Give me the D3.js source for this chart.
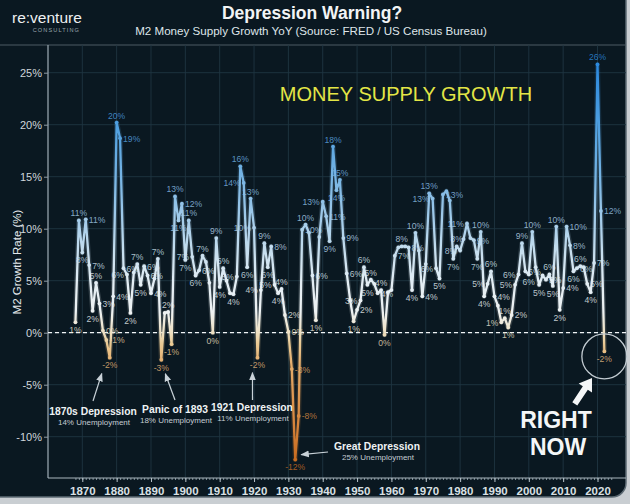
<!DOCTYPE html>
<html><head><meta charset="utf-8">
<script src="https://cdn.jsdelivr.net/npm/d3@7"></script>
<style>
html,body{margin:0;padding:0;background:#c9ced2;}
svg{display:block;font-family:"Liberation Sans",Arial,Helvetica,sans-serif;}
</style></head><body>
<svg id="c" width="630" height="504"></svg>
<script>
// ---------- data ----------
const years = d3.range(1868, 2023);
const growth = [
  1.0, 10.8, 7.7, 10.9, 6.5, 2.1, 4.8, 2.8, 0.2, -0.7,      // 1868-1877
  -2.4, 3.5, 20.2, 18.7, 6.2, 5.6, 1.9, 5.8, 6.6, 4.6,      // 1878-1887
  6.4, 5.5, 3.8, 5.2, 7.1, -2.6, 1.9, 2.0, -1.1, 13.1,      // 1888-1897
  10.8, 12.4, 7.0, 10.8, 7.3, 5.5, 6.0, 7.4, 6.8, 4.8,      // 1898-1907
  0.0, 9.1, 4.4, 6.2, 5.0, 3.8, 3.7, 5.4, 16.0, 14.4,       // 1908-1917
  6.3, 12.9, 10.1, -2.4, 4.1, 8.6, 6.3, 8.3, 4.6, 3.8,      // 1918-1927
  4.2, 1.7, 0.1, -3.5, -12.2, -8.0, 9.9, 10.4, 9.6, 5.5,    // 1928-1937
  1.2, 9.2, 12.6, 11.2, 8.8, 17.9, 13.7, 14.7, 9.1, 5.7,    // 1938-1947
  3.1, 1.1, 2.2, 3.1, 6.3, 4.6, 5.1, 4.7, 3.8, 4.1,         // 1948-1957
  -0.2, 3.9, 4.1, 7.4, 8.2, 8.3, 8.3, 8.2, 4.1, 9.6,        // 1958-1967
  7.9, 3.5, 6.6, 13.4, 12.9, 6.2, 5.2, 13.3, 13.6, 12.7,    // 1968-1977
  7.1, 8.3, 7.9, 9.0, 10.5, 9.1, 8.9, 7.1, 9.7, 3.5,        // 1978-1987
  4.7, 5.9, 3.5, 2.6, 1.0, 1.4, 0.5, 1.7, 4.6, 5.6,         // 1988-1997
  8.6, 5.9, 5.6, 9.7, 6.3, 4.6, 5.5, 5.1, 5.6, 4.5,         // 1998-2007
  10.2, 2.2, 4.3, 10.2, 8.4, 5.9, 6.2, 6.4, 6.3, 4.7,       // 2008-2017
  3.9, 6.7, 25.8, 11.7, -1.8                                // 2018-2022
];
const yTicks = [-10, -5, 0, 5, 10, 15, 20, 25];
const xTicks = d3.range(1870, 2021, 10);
const eventYears = [1878, 1893, 1921, 1932];
const eventTitles = ["1870s Depression", "Panic of 1893", "1921 Depression", "Great Depression"];
const eventSubs = ["14% Unemployment", "18% Unemployment", "11% Unemployment", "25% Unemployment"];

// ---------- setup ----------
const svg = d3.select("#c");
const L = 48, R = 626, T = 45, B = 478;
const x = d3.scaleLinear().domain([1870, 2020]).range([82.3, 597.5]);
const y = d3.scaleLinear().domain([-10, 25]).range([436.7, 72.7]);

const stops = [[-12,"#c86d22"],[-8,"#d98a42"],[-3,"#e5ad6c"],[-1,"#eacb96"],[0,"#eee0c2"],
  [2,"#eef2f3"],[5,"#e2edf4"],[8,"#c4ddee"],[11,"#a2cbea"],[15,"#76b4e4"],[20,"#4e9fe0"],[26,"#2b89df"]];
const color = d3.scaleLinear().domain(stops.map(s=>s[0])).range(stops.map(s=>s[1])).clamp(true);

const defs = svg.append("defs");
const lg = defs.append("linearGradient").attr("id","lg").attr("gradientUnits","userSpaceOnUse")
  .attr("x1",0).attr("x2",0).attr("y1",y(26)).attr("y2",y(-12));
stops.slice().reverse().forEach(s => lg.append("stop").attr("offset",(26-s[0])/38).attr("stop-color",s[1]));
defs.append("marker").attr("id","ah").attr("viewBox","0 0 10 10").attr("refX",9).attr("refY",5)
  .attr("markerWidth",7).attr("markerHeight",7).attr("orient","auto-start-reverse")
  .append("path").attr("d","M0,1 L10,5 L0,9 z").attr("fill","#c9d2d8");
defs.append("clipPath").attr("id","pc").append("rect").attr("x",L).attr("y",T).attr("width",R-L).attr("height",B-T);

// panel
svg.append("rect").attr("x",-20).attr("y",-20).attr("width",646).attr("height",517).attr("rx",14)
  .attr("fill","#0a1821").attr("stroke","#5d6b74").attr("stroke-width",1.5);

// header
svg.append("line").attr("x1",0).attr("x2",R).attr("y1",T).attr("y2",T).attr("stroke","#4c5b65").attr("stroke-width",1.2);
svg.append("text").attr("x",312).attr("y",19).attr("text-anchor","middle").attr("font-size",17.5)
  .attr("font-weight","bold").attr("fill","#f2f4f5").text("Depression Warning?");
svg.append("text").attr("x",311).attr("y",35).attr("text-anchor","middle").attr("font-size",11.6)
  .attr("fill","#dfe5e9").text("M2 Money Supply Growth YoY  (Source: FRED / US Census Bureau)");
svg.append("text").attr("x",12).attr("y",23).attr("font-size",15.5).attr("fill","#eef0f1").text("re:venture");
svg.append("text").attr("x",80).attr("y",32).attr("text-anchor","end").attr("font-size",5.6)
  .attr("letter-spacing",1.1).attr("fill","#9aa6ae").text("CONSULTING");

// grid
const g = svg.append("g");
g.selectAll(".hg").data(yTicks).join("line").attr("x1",L).attr("x2",R)
  .attr("y1",d=>y(d)).attr("y2",d=>y(d)).attr("stroke","#1f3542").attr("stroke-width",0.9);
g.selectAll(".vg").data(xTicks).join("line").attr("x1",d=>x(d)).attr("x2",d=>x(d))
  .attr("y1",T).attr("y2",B).attr("stroke","#1f3542").attr("stroke-width",0.9);

// y axis
const ya = svg.append("g").attr("transform",`translate(${L},0)`)
  .call(d3.axisLeft(y).tickValues(yTicks).tickSize(4).tickPadding(2).tickFormat(d=>d+"%"));
ya.select(".domain").remove();
ya.selectAll("line").attr("stroke","#8f9ca5");
ya.selectAll("text").attr("font-size",11).attr("fill","#cfd6db").attr("font-family","Liberation Sans, Arial");
svg.append("line").attr("x1",L).attr("x2",L).attr("y1",T).attr("y2",B).attr("stroke","#8a98a1").attr("stroke-width",1.4);
svg.append("text").attr("transform",`translate(21,${262}) rotate(-90)`).attr("text-anchor","middle")
  .attr("font-size",11.5).attr("fill","#e4e9ec").text("M2 Growth Rate (%)");

// x axis
const xa = svg.append("g").attr("transform",`translate(0,${B})`)
  .call(d3.axisBottom(x).tickValues(d3.range(1868, 2025)).tickSize(2).tickFormat(""));
xa.select(".domain").remove();
xa.selectAll("line").attr("stroke","#9fb0ba").attr("stroke-width",0.8);
svg.append("line").attr("x1",L).attr("x2",R).attr("y1",B).attr("y2",B).attr("stroke","#a9b6be").attr("stroke-width",1.1);
const xl = svg.append("g").attr("transform",`translate(0,${B})`)
  .call(d3.axisBottom(x).tickValues(xTicks).tickSize(4).tickPadding(5).tickFormat(d3.format("d")));
xl.select(".domain").remove();
xl.selectAll("line").attr("stroke","#b8c4cb");
xl.selectAll("text").attr("font-size",11.5).attr("font-weight","bold").attr("fill","#d9e0e4")
  .attr("font-family","Liberation Sans, Arial");

// zero line
svg.append("line").attr("x1",L).attr("x2",R).attr("y1",y(0)).attr("y2",y(0))
  .attr("stroke","#f0f3f5").attr("stroke-width",1.3).attr("stroke-dasharray","4,3");

// big caption
svg.append("text").attr("x",406).attr("y",101).attr("text-anchor","middle").attr("font-size",20)
  .attr("fill","#e3e646").text("MONEY SUPPLY GROWTH");

// series
const pts = years.map((yr,i)=>({yr, v:growth[i], i, x:x(yr), y:y(growth[i])}));
const plot = svg.append("g").attr("clip-path","url(#pc)");
plot.append("path").datum(pts).attr("fill","none").attr("stroke","url(#lg)").attr("stroke-width",5)
  .attr("stroke-opacity",0.18).attr("stroke-linejoin","round")
  .attr("d",d3.line().x(d=>d.x).y(d=>d.y));
plot.append("path").datum(pts).attr("fill","none").attr("stroke","url(#lg)").attr("stroke-width",2.3)
  .attr("stroke-linejoin","round").attr("d",d3.line().x(d=>d.x).y(d=>d.y));
plot.selectAll(".pt").data(pts).join("circle").attr("cx",d=>d.x).attr("cy",d=>d.y).attr("r",1.9)
  .attr("fill",d=>color(d.v));

// labels with simple collision avoidance
pts.forEach(p=>{
  const prev = p.i>0 ? growth[p.i-1] : p.v, next = p.i<growth.length-1 ? growth[p.i+1] : p.v;
  p.type = (p.v>=prev && p.v>=next) ? "max" : (p.v<=prev && p.v<=next) ? "min" : "mid";
  p.prom = Math.abs(p.v-(prev+next)/2) + (p.type==="mid"?0:3);
  p.t = Math.round(p.v)+"%";
});
const placed = [];
const fs = 8.6, lh = 6.8;
function tw(t){ let w=0; for(const c of t){ w += c==="%" ? 0.889*fs : c==="-" ? 0.333*fs : 0.556*fs; } return w; }
function box(p,pos){
  const w = tw(p.t);
  if(pos==="above") return {x1:p.x-w/2, x2:p.x+w/2, y1:p.y-4-lh, y2:p.y-4, tx:p.x, ty:p.y-4, a:"middle"};
  if(pos==="below") return {x1:p.x-w/2, x2:p.x+w/2, y1:p.y+4, y2:p.y+4+lh, tx:p.x, ty:p.y+4+lh, a:"middle"};
  if(pos==="right") return {x1:p.x+3, x2:p.x+3+w, y1:p.y-lh/2, y2:p.y+lh/2, tx:p.x+3, ty:p.y+lh/2, a:"start"};
  return {x1:p.x-3-w, x2:p.x-3, y1:p.y-lh/2, y2:p.y+lh/2, tx:p.x-3, ty:p.y+lh/2, a:"end"};
}
function hit(b){ return placed.some(q=>!(b.x2<q.x1-0.8||b.x1>q.x2+0.8||b.y2+2.4<q.y1||b.y1>q.y2+2.4)); }
const labs = [];
pts.slice().sort((a,b)=>b.prom-a.prom).forEach(p=>{
  const order = p.type==="max" ? ["above","right","left"] : p.type==="min" ? ["below","left","right"] : ["right","left"];
  for(const pos of order){
    const b = box(p,pos);
    if(b.x2>R-2 && p.yr<2020) continue;
    if(!hit(b)){ placed.push(b); labs.push({p,b}); break; }
  }
});
svg.append("g").selectAll("text").data(labs).join("text")
  .attr("x",d=>d.b.tx).attr("y",d=>d.b.ty).attr("text-anchor",d=>d.b.a)
  .attr("font-size",fs).attr("fill",d=>color(d.p.v)).attr("fill-opacity",0.82).text(d=>d.p.t);

// annotations
const ann = svg.append("g");
const textPos = [[93,411],[175,409],[252,407],[377,446]];
const tips = [[x(1878)-8, y(-2.4)+16],[x(1893)+4, y(-2.6)+14],[x(1921)-5, y(-2.4)+15],[x(1932)+6, y(-12.2)-5]];
const tails = [[93,401],[175,400],[252.5,400],[328,452]];
eventTitles.forEach((t,i)=>{
  ann.append("text").attr("x",textPos[i][0]).attr("y",textPos[i][1]+4).attr("text-anchor","middle")
    .attr("font-size",10.3).attr("font-weight","bold").attr("fill","#eef2f4").text(t);
  ann.append("text").attr("x",textPos[i][0]+1).attr("y",textPos[i][1]+14).attr("text-anchor","middle")
    .attr("font-size",8).attr("fill","#c4ccd2").text(eventSubs[i]);
  ann.append("line").attr("x1",tails[i][0]).attr("y1",tails[i][1]).attr("x2",tips[i][0]).attr("y2",tips[i][1])
    .attr("stroke","#c9d2d8").attr("stroke-width",1.2).attr("marker-end","url(#ah)");
});

// right now
const last = pts[pts.length-1];
svg.append("circle").attr("cx",last.x).attr("cy",last.y+5).attr("r",22.5).attr("fill","none")
  .attr("stroke","#c3ccd2").attr("stroke-width",1.3);
svg.append("path").attr("transform","translate(592,378) rotate(33.7)")
  .attr("d","M0,0 L8,12 L3,12 L3,31 L-3,31 L-3,12 L-8,12 Z").attr("fill","#f4f6f7");
svg.append("text").attr("x",556).attr("y",428).attr("text-anchor","middle").attr("font-size",23)
  .attr("font-weight","bold").attr("fill","#f4f6f7").text("RIGHT");
svg.append("text").attr("x",558).attr("y",455).attr("text-anchor","middle").attr("font-size",23)
  .attr("font-weight","bold").attr("fill","#f4f6f7").text("NOW");
</script>
</body></html>
